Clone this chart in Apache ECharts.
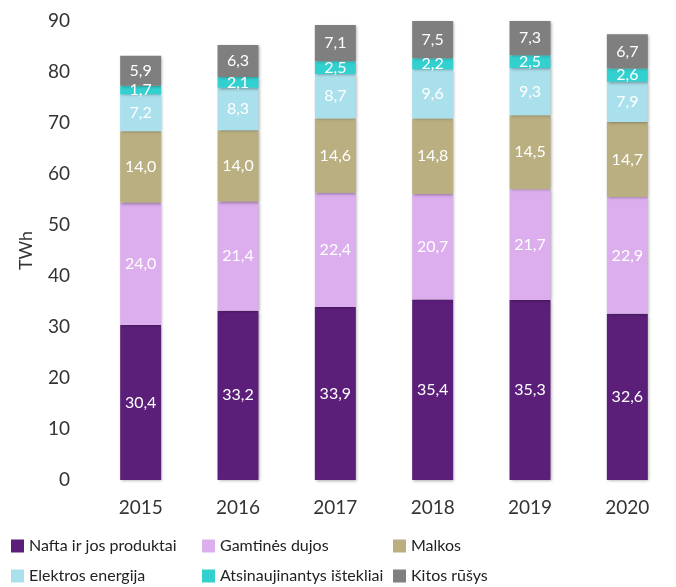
<!DOCTYPE html>
<html>
	<head>
		<meta charset="utf-8">
		<title></title>
		<script src="https://cdn.jsdelivr.net/npm/echarts@6/dist/echarts.min.js"></script>
	</head>
	<body style="margin:0;">
		<div id="my" style="width: 676px;height: 587px;"></div>
		
		<script>
			var years = ['2015', '2016', '2017', '2018', '2019', '2020'];
			var nafta = [30.4, 33.2, 33.9, 35.4, 35.3, 32.6];
			var dujos = [24.0, 21.4, 22.4, 20.7, 21.7, 22.9];
			var malkos = [14.0, 14.0, 14.6, 14.8, 14.5, 14.7];
			var elektra = [7.2, 8.3, 8.7, 9.6, 9.3, 7.9];
			var atsinaujinantys = [1.7, 2.1, 2.5, 2.2, 2.5, 2.6];
			var kitos = [5.9, 6.3, 7.1, 7.5, 7.3, 6.7];
			
			var myChart = echarts.init(document.getElementById('my'));
			var font = 'Lato, sans-serif';
			
			function makeSeries(name, data, color) {
				return {
					name: name,
					type: 'bar',
					stack: 'total',
					barWidth: 41,
					data: data,
					itemStyle: {
						color: color,
						shadowBlur: 3,
						shadowColor: 'rgba(0,0,0,0.35)',
						shadowOffsetX: 1,
						shadowOffsetY: 1
					},
					label: {
						show: true,
						position: 'inside',
						color: '#fff',
						fontFamily: font,
						fontSize: 16,
						formatter: function (p) {//kablelis vietoj taško
							return p.value.toFixed(1).replace('.', ',');
						}
					}
				};
			}
			
			var legendText = { fontFamily: font, fontSize: 16, color: '#222', lineHeight: 20 };
			function makeLegend(left, names) {
				return {
					left: left,
					top: 536,
					padding: 0,
					orient: 'vertical',
					itemGap: 10,
					itemWidth: 13,
					itemHeight: 13,
					icon: 'rect',
					textStyle: legendText,
					data: names
				};
			}
			
			var option = {
				animation: false,
				legend: [
					makeLegend(11, ['Nafta ir jos produktai', 'Elektros energija']),
					makeLegend(202, ['Gamtinės dujos', 'Atsinaujinantys ištekliai']),
					makeLegend(393, ['Malkos', 'Kitos rūšys'])
				],
				grid: {
					left: 92,
					right: -29,
					top: 21,
					bottom: 107
				},
				xAxis: {
					type: 'category',
					data: years,
					axisLine: { show: false },
					axisTick: { show: false },
					axisLabel: { fontFamily: font, fontSize: 19, color: '#333', margin: 18 }
				},
				yAxis: {
					type: 'value',
					min: 0,
					max: 90,
					interval: 10,
					name: 'TWh',
					nameLocation: 'middle',
					nameGap: 57,
					nameTextStyle: { fontFamily: font, fontSize: 18, color: '#333' },
					splitLine: { show: false },
					axisLabel: { fontFamily: font, fontSize: 19, color: '#333', margin: 22 }
				},
				series: [
					makeSeries('Nafta ir jos produktai', nafta, '#5c1f79'),
					makeSeries('Gamtinės dujos', dujos, '#dcaeee'),
					makeSeries('Malkos', malkos, '#b9af80'),
					makeSeries('Elektros energija', elektra, '#aadfec'),
					makeSeries('Atsinaujinantys ištekliai', atsinaujinantys, '#33d0d0'),
					makeSeries('Kitos rūšys', kitos, '#7f7f7f')
				]
			};
			
			myChart.setOption(option);
		</script>
	</body>
</html>
